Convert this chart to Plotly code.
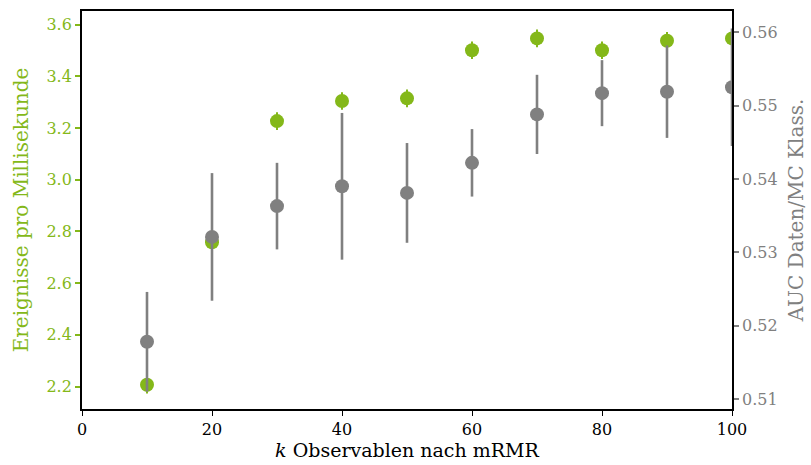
import plotly.graph_objects as go

# Anzahl der per mRMR ausgewählten Observablen
k_values = [10, 20, 30, 40, 50, 60, 70, 80, 90, 100]

# Ereignisrate (linke Achse)
rate = [2.207, 2.758, 3.227, 3.305, 3.315, 3.501, 3.547, 3.501, 3.538, 3.547]
rate_err = [0.034, 0.034, 0.034, 0.034, 0.034, 0.034, 0.034, 0.034, 0.034, 0.034]

# AUC des Daten/MC-Klassifikators (rechte Achse)
auc = [0.5178, 0.5321, 0.5363, 0.5390, 0.5381, 0.5422, 0.5488, 0.5517, 0.5519, 0.5525]
auc_err = [0.0068, 0.0087, 0.0059, 0.0100, 0.0068, 0.0046, 0.0054, 0.0045, 0.0063, 0.0080]

GREEN = "#84b819"
GRAY = "#808080"
FONT = "DejaVu Serif"

fig = go.Figure()

fig.add_trace(go.Scatter(
    x=k_values, y=auc, yaxis="y2", mode="markers",
    marker=dict(color=GRAY, size=14),
    error_y=dict(type="data", array=auc_err, color=GRAY, thickness=2.6, width=0),
    showlegend=False,
))
fig.add_trace(go.Scatter(
    x=k_values, y=rate, yaxis="y", mode="markers",
    marker=dict(color=GREEN, size=14),
    error_y=dict(type="data", array=rate_err, color=GREEN, thickness=2, width=0),
    showlegend=False,
))

fig.update_layout(
    width=811, height=465,
    margin=dict(l=82, r=79, t=11, b=56),
    paper_bgcolor="white", plot_bgcolor="white",
    font=dict(family=FONT, size=16, color="black"),
    xaxis=dict(
        range=[0, 100], tickvals=[0, 20, 40, 60, 80, 100],
        ticks="outside", ticklen=5, tickwidth=1.2, tickcolor="black",
        showline=True, linecolor="black", linewidth=1.8, mirror=True,
        showgrid=False, zeroline=False, automargin=False,
        title=dict(text="<i>k</i> Observablen nach mRMR", font=dict(size=19), standoff=3),
        tickfont=dict(size=16),
    ),
    yaxis=dict(
        range=[2.113, 3.653], tickvals=[2.2, 2.4, 2.6, 2.8, 3.0, 3.2, 3.4, 3.6],
        tickformat=".1f",
        ticks="outside", ticklen=5, tickwidth=1.5, tickcolor=GREEN,
        showline=True, linecolor="black", linewidth=1.8,
        showgrid=False, zeroline=False, automargin=False,
        tickfont=dict(color=GREEN, size=16),
        title=dict(text="Ereignisse pro Millisekunde", font=dict(color=GREEN, size=20), standoff=12),
    ),
    yaxis2=dict(
        range=[0.50864, 0.5629], tickvals=[0.51, 0.52, 0.53, 0.54, 0.55, 0.56],
        tickformat=".2f",
        overlaying="y", side="right",
        ticks="outside", ticklen=5, tickwidth=1.5, tickcolor=GRAY,
        showline=True, linecolor="black", linewidth=1.8,
        showgrid=False, zeroline=False, automargin=False,
        tickfont=dict(color=GRAY, size=16),
        title=dict(text="AUC Daten/MC Klass.", font=dict(color=GRAY, size=20), standoff=12),
    ),
)

fig.write_html("out.html")
